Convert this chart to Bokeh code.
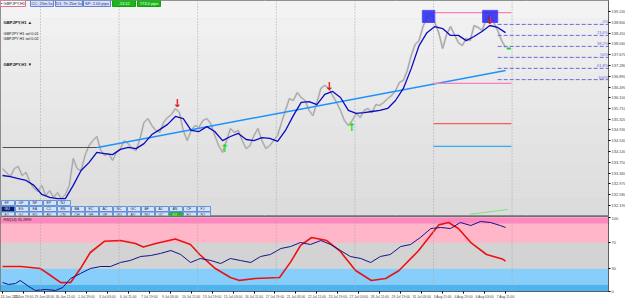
import numpy as np
from bokeh.plotting import figure
from bokeh.models import Range1d, FixedTicker, Label, Span, BoxAnnotation, PrintfTickFormatter
from bokeh.layouts import column
from bokeh.embed import file_html
from bokeh.resources import INLINE
from bokeh.core.properties import value

# ---------------- data ----------------
close_bars = list(range(0, 769, 6))
close = [133.52,133.38,133.23,133.52,133.60,133.27,133.38,133.02,132.80,132.69,
         132.91,132.54,132.72,132.47,132.65,132.43,132.58,132.91,133.89,133.52,
         133.45,134.00,134.36,134.54,134.69,134.18,134.00,134.07,133.82,134.11,
         134.25,134.54,134.43,134.25,134.18,134.62,135.20,135.34,135.09,134.91,
         134.84,135.20,135.38,135.49,135.71,135.56,134.91,134.54,134.91,135.09,
         135.02,135.27,135.34,135.16,134.73,134.36,134.11,134.54,134.98,134.84,
         134.91,134.54,134.25,134.36,134.73,134.98,134.54,134.25,134.36,134.54,
         134.73,135.20,135.64,136.07,136.00,136.29,136.11,136.00,135.64,135.45,
         135.93,136.44,136.55,136.44,136.18,135.93,135.64,135.27,135.09,135.27,
         135.53,135.38,135.64,135.71,135.56,135.85,135.82,135.93,136.07,136.18,
         136.36,136.66,136.73,137.09,137.64,138.04,138.18,138.69,139.02,139.20,
         138.84,138.47,137.89,138.40,138.69,138.40,138.11,138.00,138.26,138.18,
         138.73,138.66,138.55,138.91,139.13,138.84,138.55,138.18,137.93]

ma_bars = list(range(0, 769, 12))
ma = [133.27,133.23,133.16,133.09,132.91,132.58,132.47,132.43,132.43,132.91,
      133.45,133.74,134.11,134.07,134.03,134.22,134.29,134.25,134.43,134.76,
      134.94,135.13,135.42,135.34,134.91,134.87,135.05,134.87,134.54,134.69,
      134.80,134.58,134.54,134.65,134.62,134.51,134.91,135.45,135.93,135.96,
      135.85,136.22,136.33,136.11,135.64,135.53,135.56,135.60,135.64,135.71,
      136.00,136.44,137.16,138.00,138.47,138.69,138.62,138.37,138.37,138.18,
      138.33,138.51,138.73,138.66,138.47]

flat_bars = [0, 145]
flat_prices = [134.29, 134.29]
trend_bars = [145, 768]
trend_prices = [134.29, 137.09]

zone_bars = [658, 777]
pink_levels = [139.20, 136.62]
red_level = [135.16]
blue_level = [134.33]

fib_bars = [756, 925]
fib_levels = [138.77, 138.37, 137.97, 137.57, 137.17, 136.76]
fib_labels = ["0%", "23.6%", "38.2%", "50%", "61.8%", "100%"]

box_left = [641, 733]
box_right = [660, 756]
box_top = [139.28, 139.28]
box_bottom = [138.84, 138.84]

sell_bars = [267, 499, 744]
sell_prices = [135.89, 136.51, 138.91]
buy_bars = [339, 533]
buy_prices = [134.25, 135.02]
mark_bar = [773]
mark_price = [137.89]
signal_bars = [714, 771]
signal_prices = [131.86, 132.03]

price_ticks = [139.240, 138.840, 138.450, 138.060, 137.670, 137.280, 136.890, 136.490,
               136.100, 135.710, 135.320, 134.930, 134.540, 134.140, 133.750, 133.360,
               132.970, 132.580, 132.190, 131.790]
last_price = 137.893

time_ticks = list(range(0, 769, 32))
time_labels = ["24 Jun 2020", "25 Jun 19:00", "29 Jun 03:00", "30 Jun 11:00", "1 Jul 19:00",
               "3 Jul 03:00", "6 Jul 11:00", "7 Jul 19:00", "9 Jul 03:00", "10 Jul 11:00",
               "13 Jul 19:00", "15 Jul 03:00", "16 Jul 11:00", "17 Jul 19:00", "21 Jul 03:00",
               "22 Jul 11:00", "23 Jul 19:00", "27 Jul 03:00", "28 Jul 11:00", "29 Jul 19:00",
               "31 Jul 03:00", "3 Aug 11:00", "4 Aug 19:00", "6 Aug 03:00", "7 Aug 11:00"]
grid_bars = [58, 178, 298, 418, 538, 658, 778]

rsi_red_bars = [0, 28, 58, 73, 89, 104, 119, 134, 156, 180, 203, 215, 234, 264, 287, 301, 325, 348,
                362, 386, 423, 440, 455, 472, 495, 515, 539, 563, 585, 605, 635, 666, 681, 696,
                715, 739, 763, 768]
rsi_red = [33.8, 33.8, 31, 22, 12, 12.2, 31, 52.7, 68, 68.9, 64.9, 60, 64.9, 71, 63.5, 50, 31, 18.9,
           15, 17.6, 19, 40, 62.2, 73, 68.9, 55, 28.4, 14.9, 17.6, 28, 55, 90, 93.2, 85.1,
           66.2, 50, 44, 41]
rsi_blue_bars = [0, 9, 20, 27, 40, 50, 66, 81, 92, 104, 119, 134, 150, 165, 180, 195, 211, 226,
                 241, 257, 272, 287, 302, 318, 333, 348, 363, 379, 394, 409, 425, 440, 455, 470,
                 486, 501, 516, 531, 547, 562, 577, 592, 608, 623, 638, 654, 669, 684, 699, 715,
                 730, 745, 760, 768]
rsi_blue = [12.2, 9.5, 10.8, 14.9, 6.8, 1.4, 2.7, 1.4, 5.4, 17.6, 24.3, 31, 33.8, 33.8, 39.2, 41.9,
            47.3, 48.6, 51.4, 55.4, 50, 39.2, 44.6, 41.9, 37.8, 44.6, 41.9, 39.2, 47.3, 50, 58.1,
            60.8, 66.2, 63.5, 68.9, 63.5, 55.4, 47.3, 44.6, 39.2, 47.3, 50, 60.8, 63.5, 73, 85.1,
            86.5, 85.1, 93.2, 89.2, 94.6, 93.2, 89.2, 86.5]
rsi_levels = [0, 9.5, 31, 66, 92, 100]
rsi_ticks = [100, 66, 31, 0]
rsi_tick_labels = ["100", "70", "30", "0"]

# ---------------- layout helpers ----------------
FW = 608
FH = 215
FONT = "Liberation Sans"

def bx(px):
    return (px - 2) / 0.655

def py(pix):
    return 139.64 - 0.0364 * pix

p = figure(frame_width=FW, frame_height=FH, x_range=Range1d(bx(0), bx(FW)),
           y_range=Range1d(py(FH), py(0)), x_axis_location=None, y_axis_location="right",
           toolbar_location=None, output_backend="svg", min_border_left=0, min_border_right=0,
           min_border_top=0, min_border_bottom=1, background_fill_color="#E8E8E8",
           border_fill_color="white", outline_line_color="#707070")
p.ygrid.grid_line_color = None

# subtle vertical gradient of the chart background
edges = np.linspace(0, FH, 13)
for i in range(12):
    g = int(0xF3 - (0xF3 - 0xDC) * i / 11)
    p.add_layout(BoxAnnotation(top=py(edges[i]), bottom=py(edges[i + 1]),
                               fill_color="#%02x%02x%02x" % (g, g, g), fill_alpha=1,
                               line_color=None, level="underlay"))

for b in grid_bars:
    p.add_layout(Span(location=b, dimension="height", line_color="#A8A8A8",
                      line_dash="1 2", line_width=1, level="underlay"))

ax = p.yaxis[0]
ax.ticker = FixedTicker(ticks=price_ticks)
ax.formatter = PrintfTickFormatter(format="%.3f")
ax.major_label_text_font_size = "4px"
ax.major_label_text_font = FONT
ax.major_tick_out = 2
ax.major_tick_in = 0
ax.minor_tick_line_color = None
ax.major_label_standoff = 1
ax.axis_line_color = "#606060"

# price and indicators
p.line(close_bars, close, line_color="#CFCFCF", line_width=2.2)
p.line(close_bars, close, line_color="#9C9C9C", line_width=0.9)
p.line(flat_bars, flat_prices, line_color="#505050", line_width=1.2)
p.line(trend_bars, trend_prices, line_color="#1E90FF", line_width=1.5)
p.line(ma_bars, ma, line_color="#0A0AC0", line_width=1.3)
p.line(signal_bars, signal_prices, line_color="#7CE07C", line_width=1)

p.segment(x0=[zone_bars[0]] * 2, x1=[zone_bars[1]] * 2, y0=pink_levels, y1=pink_levels,
          line_color="#FF80B8", line_width=1.2)
p.segment(x0=[zone_bars[0]], x1=[zone_bars[1]], y0=red_level, y1=red_level,
          line_color="#FF5A5A", line_width=1.2)
p.segment(x0=[zone_bars[0]], x1=[zone_bars[1]], y0=blue_level, y1=blue_level,
          line_color="#33AAF5", line_width=1.4)
p.segment(x0=[fib_bars[0]] * 6, x1=[fib_bars[1]] * 6, y0=fib_levels, y1=fib_levels,
          line_color="#6A6ADC", line_width=1, line_dash="4 2")
p.text(x=[fib_bars[1]] * 6, y=fib_levels, text=fib_labels, text_font=value(FONT),
       text_font_size="4px", text_color="#6A6ADC", text_align="right", text_baseline="bottom")

p.quad(left=box_left, right=box_right, top=box_top, bottom=box_bottom,
       fill_color="#3030F0", line_color="#5050FF", fill_alpha=0.9)

p.text(x=sell_bars, y=sell_prices, text=["\u2193"] * len(sell_bars), text_font=value("DejaVu Sans"),
       text_font_size="11px", text_font_style="bold", text_color="#E01818",
       text_align="center", text_baseline="middle")
p.text(x=buy_bars, y=buy_prices, text=["\u2191"] * len(buy_bars), text_font=value("DejaVu Sans"),
       text_font_size="11px", text_font_style="bold", text_color="#22DD22",
       text_align="center", text_baseline="middle")
p.scatter(mark_bar, mark_price, marker="dash", size=4, line_color="#22CC22", line_width=2)

# current price tag
p.add_layout(Label(x=bx(FW + 1), y=last_price, text="%.3f" % last_price, text_font=FONT,
                   text_font_size="4px", text_color="white", background_fill_color="black",
                   text_baseline="middle", padding=1))

# header boxes
header = [("\u25aa GBPJPY,H1", 0, 25, "#FFFFFF", "#E07090", "#202020"),
          ("CC: 25m 5s", 30, 53, "#D8E0FA", "#6080E0", "#203070"),
          ("D1: 7h 25m 5s", 55, 82, "#D8E0FA", "#6080E0", "#203070"),
          ("SP: 2.00 pips", 83, 110, "#D8E0FA", "#6080E0", "#203070"),
          ("-13.52", 112, 135, "#18B818", "#10A010", "#FFFFFF"),
          ("773.0 pips", 137, 160, "#18B818", "#10A010", "#FFFFFF")]
for t, l, r_, fc, lc, tc in header:
    p.quad(left=[bx(l)], right=[bx(r_)], top=[py(0)], bottom=[py(6)], fill_color=fc, line_color=lc)
    p.text(x=[bx((l + r_) / 2)], y=[py(3)], text=[t], text_font=value(FONT), text_font_size="4px",
           text_color=tc, text_align="center", text_baseline="middle")

# left labels
p.text(x=[bx(3)], y=[py(21.5)], text=["GBPJPY,H1 \u25b2"], text_font=value(FONT),
       text_font_size="4.2px", text_font_style="bold", text_color="#101010", text_baseline="middle")
p.text(x=[bx(3)] * 2, y=[py(33), py(38)], text=["GBPJPY H1 sel 0.01", "GBPJPY H1 sel 0.02"],
       text_font=value(FONT), text_font_size="3.8px", text_color="#101010", text_baseline="middle")
p.text(x=[bx(3)], y=[py(64)], text=["GBPJPY,H1 \u25bc"], text_font=value(FONT),
       text_font_size="4.2px", text_font_style="bold", text_color="#101010", text_baseline="middle")

# pair buttons
rows = [(202.5, ["EF", "GF", "NF", "EP", "NJ"]),
        (208.5, ["GU", "EG", "EA", "CJ", "EN", "BA", "EC", "AC", "NC", "GC", "AF", "AJ", "AN", "CF", "FJ"]),
        (214.0, ["EJ", "GJ", "EU", "AU", "CN", "CH", "GF", "UF", "GU", "AU", "NU", "UC", "UJ", "EJ", "NJ"])]
for ri, (yy, labs) in enumerate(rows):
    for i, lab in enumerate(labs):
        l = 1 + i * 14
        fc, tc = "#D6E2F6", "#203060"
        if ri == 1 and i == 0:
            fc, tc = "#0A1A6A", "#FFFFFF"
        if ri == 2 and i == 12:
            fc, tc = "#18C018", "#FFFFFF"
        p.quad(left=[bx(l)], right=[bx(l + 13)], top=[py(yy - 2.5)], bottom=[py(yy + 2.5)],
               fill_color=fc, line_color="#4A80D0", line_width=0.8)
        p.text(x=[bx(l + 3)], y=[py(yy)], text=[lab], text_font=value(FONT), text_font_size="3.5px",
               text_color=tc, text_baseline="middle")

# ---------------- RSI panel ----------------
RH = 75
r = figure(frame_width=FW, frame_height=RH, x_range=p.x_range, y_range=Range1d(0, 101.35),
           y_axis_location="right", toolbar_location=None, output_backend="svg",
           min_border_left=0, min_border_right=0, min_border_top=0, min_border_bottom=0,
           background_fill_color="#D3D3D3", border_fill_color="white", outline_line_color="#707070")
r.grid.grid_line_color = None
band_colors = ["#4DB4F2", "#87CEFA", "#D3D3D3", "#FFB6C8", "#FF86BE"]
for i in range(5):
    r.add_layout(BoxAnnotation(bottom=rsi_levels[i], top=rsi_levels[i + 1], fill_color=band_colors[i],
                               fill_alpha=1, line_color=None, level="underlay"))
for b in grid_bars:
    r.add_layout(Span(location=b, dimension="height", line_color="#A8A8A8",
                      line_dash="1 2", line_width=1))

r.line(rsi_red_bars, rsi_red, line_color="#EE1111", line_width=1.6, line_join="round")
r.line(rsi_blue_bars, rsi_blue, line_color="#14148C", line_width=1.0)
r.add_layout(Label(x=bx(3), y=97, text="RSI(14) 35.2899", text_font=FONT, text_font_size="3.8px",
                   text_color="#202020", text_baseline="middle"))

xa = r.xaxis[0]
xa.ticker = FixedTicker(ticks=time_ticks)
xa.major_label_overrides = {t: lab for t, lab in zip(time_ticks, time_labels)}
xa.major_label_text_align = "left"
xa.major_label_text_font_size = "3.4px"
xa.major_label_text_font = FONT
xa.major_tick_out = 2
xa.major_tick_in = 0
xa.minor_tick_line_color = None
xa.major_label_standoff = 1
xa.axis_line_color = "#606060"

ya = r.yaxis[0]
ya.ticker = FixedTicker(ticks=rsi_ticks)
ya.major_label_overrides = {t: lab for t, lab in zip(rsi_ticks, rsi_tick_labels)}
ya.major_label_text_font_size = "4px"
ya.major_label_text_font = FONT
ya.major_tick_out = 2
ya.major_tick_in = 0
ya.minor_tick_line_color = None
ya.major_label_standoff = 1
ya.axis_line_color = "#606060"

layout = column(p, r, spacing=0)
open("out.html", "w").write(file_html(layout, INLINE))
